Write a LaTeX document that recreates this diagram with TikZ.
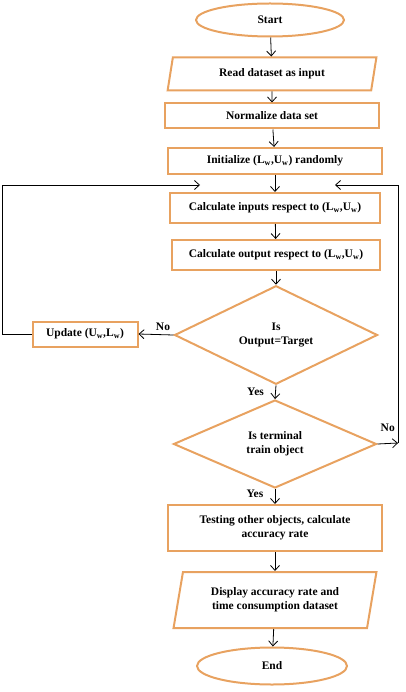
\documentclass[tikz,border=0pt]{standalone}
\usepackage{fontspec}
\setmainfont{Liberation Serif}
\usepackage{tikz}
\usetikzlibrary{shapes.geometric,arrows.meta}
\definecolor{boxorange}{RGB}{232,162,96}
\newcommand{\LwUw}{(L\textsubscript{w},U\textsubscript{w})}

\begin{document}
\begin{tikzpicture}[x=1pt,y=-1pt,
    every node/.style={font=\bfseries\fontsize{11.5}{14}\selectfont},
    box/.style={draw=boxorange,line width=2pt,rectangle,inner sep=2pt,align=center},
    term/.style={draw=boxorange,line width=2pt,ellipse,minimum width=148pt,minimum height=33pt,inner sep=0},
    io/.style={draw=boxorange,line width=2pt,trapezium,trapezium left angle=75,trapezium right angle=105,
      trapezium stretches=true,inner sep=0,align=center},
    decide/.style={draw=boxorange,line width=2pt,diamond,minimum width=203pt,minimum height=89pt,inner sep=0,align=center},
    >={Straight Barb[length=5pt,width=9pt]},
    line/.style={black,line width=0.8pt}]
    \useasboundingbox (0,0) rectangle (405,692);

    \node[term] (start) at (270,20) {Start};
    \node[io,minimum width=209pt,minimum height=33pt] (read) at (272,74) {Read dataset as input};
    \node[box,minimum width=214pt,minimum height=25pt] (norm) at (272,116) {Normalize data set};
    \node[box,minimum width=214pt,minimum height=26pt] (init) at (275,161) {Initialize \LwUw{} randomly};
    \node[box,minimum width=210pt,minimum height=30pt] (inputs) at (275,208) {Calculate inputs respect to \LwUw};
    \node[box,minimum width=208pt,minimum height=30pt] (output) at (276,255) {Calculate output respect to \LwUw};
    \node[decide] (target) at (276,335) {Is\\Output=Target};
    \node[box,minimum width=105pt,minimum height=25pt] (update) at (85,334) {Update (U\textsubscript{w},L\textsubscript{w})};
    \node[decide,minimum height=88pt] (terminal) at (275,444) {Is terminal\\train object};
    \node[box,minimum width=214pt,minimum height=46pt] (test) at (275,528) {Testing other objects, calculate\\accuracy rate};
    \node[io,minimum width=203pt,minimum height=56pt] (display) at (275,600) {Display accuracy rate and\\time consumption dataset};
    \node[term,minimum width=150pt,minimum height=37pt] (end) at (272,666) {End};

    \coordinate (lb) at (2,334);
    \coordinate (lt) at (2,185);
    \coordinate (la) at (200,185);
    \coordinate (rb) at (398,443);
    \coordinate (rt) at (398,185);
    \coordinate (ra) at (335,185);

    \draw[line,->] (start) -- (read);
    \draw[line,->] (read) -- (norm);
    \draw[line,->] (norm) -- (init);
    \draw[line,->] (init) -- (inputs);
    \draw[line,->] (inputs) -- (output);
    \draw[line,->] (output) -- (target);
    \draw[line,->] (target.west) -- (update.east) node[pos=0.3,anchor=south] {No};
    \draw[line,->] (update.west) -- (lb) -- (lt) -- (la);
    \draw[line,->] (target.south) -- (terminal.north) node[pos=0.45,anchor=east,xshift=-8pt] {Yes};
    \draw[line,->] (terminal.east) -- (rb) node[midway,anchor=south,yshift=8pt] {No};
    \draw[line,->] (rb) -- (rt) -- (ra);
    \draw[line,->] (terminal.south) -- (test.north) node[pos=0.3,anchor=east,xshift=-8pt] {Yes};
    \draw[line,->] (test) -- (display);
    \draw[line,->] (display) -- (end);
  \end{tikzpicture}
\end{document}
